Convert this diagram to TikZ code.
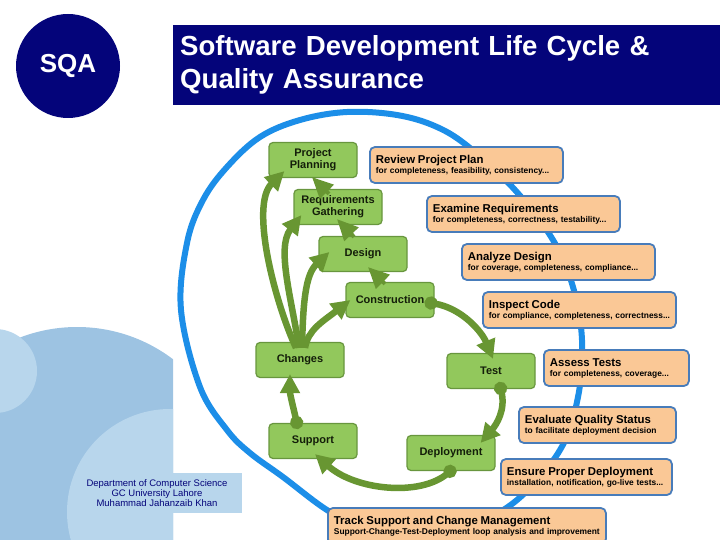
\documentclass[tikz,border=0pt]{standalone}
\usepackage{fontspec}
\setmainfont{Liberation Sans}
\usetikzlibrary{positioning,arrows.meta,calc}

\definecolor{navy}{RGB}{4,4,122}
\definecolor{phasefill}{RGB}{146,200,92}
\definecolor{phaseline}{RGB}{104,150,62}
\definecolor{flowgreen}{RGB}{104,150,50}
\definecolor{qafill}{RGB}{250,200,150}
\definecolor{qaline}{RGB}{72,124,186}
\definecolor{ringblue}{RGB}{28,142,232}
\definecolor{bgdark}{RGB}{157,195,226}
\definecolor{bglight}{RGB}{184,214,236}

\newcommand{\qatitle}[1]{\mbox{\fontsize{11.4}{10}\selectfont #1}}
\newcommand{\qanote}[1]{\mbox{#1}}

\begin{document}
\begin{tikzpicture}[x=1pt, y=-1pt,
    phase/.style={draw=phaseline, fill=phasefill, line width=1.2pt, rounded corners=4pt,
                  minimum width=88pt, minimum height=35pt, align=center, inner sep=1pt,
                  text={rgb,255:red,20;green,30;blue,10},
                  font=\fontsize{11}{12}\selectfont\bfseries},
    qabox/.style={draw=qaline, fill=qafill, line width=1.8pt, rounded corners=5pt,
                  anchor=west, align=left, inner xsep=6pt, inner ysep=0pt,
                  minimum height=36pt, font=\fontsize{8.4}{10}\selectfont\bfseries},
    ring/.style={ringblue, line width=6pt},
    flow/.style={flowgreen, line width=6.5pt, -{Triangle[length=19pt,width=19pt]}},
    dotflow/.style={flow, {Circle[length=13pt]}-{Triangle[length=19pt,width=19pt]}},
    fb/.style={flowgreen, line width=4pt, -{Triangle[length=21pt,width=19pt]}},
  ]
  \useasboundingbox (0,0) rectangle (720,540);
  \clip (0,0) rectangle (720,540);

  % --- background shapes, lower left ---
  \begin{scope}
    \clip (0,300) rectangle (173,540);
    \fill[bgdark] (77,486) circle[radius=159pt];
    \fill[bglight] (-5,371) circle[radius=42pt];
    \fill[bglight] (170,512) circle[radius=103pt];
  \end{scope}
  \node[fill=bglight, minimum width=160pt, minimum height=40pt, inner sep=0pt] (deptbox) at (162,493) {};
  \node[align=center, text=navy, font=\fontsize{9.5}{10}\selectfont, inner sep=0pt]
    (dept) at ($(deptbox.center)+(-5,0)$)
    {Department of Computer Science\\GC University Lahore\\Muhammad Jahanzaib Khan};

  % --- header ---
  \node[circle, fill=navy, minimum size=104pt, text=white,
        font=\fontsize{26}{28}\selectfont\bfseries] (sqa) at (68,66) {SQA};
  \node[fill=navy, anchor=north west, minimum width=547pt, minimum height=80pt,
        text width=533pt, inner xsep=7pt, align=left, text=white,
        font=\fontsize{27.6}{33}\selectfont\bfseries] (title) at (173,25)
    {Software Development Life Cycle \&\\Quality Assurance};

  % --- the QA ring ---
  \draw[ring] plot[smooth cycle, tension=0.6] coordinates {
    (347,112) (397,115) (437,127) (470,148) (515,190) (553,240) (573,287)
    (582,340) (578,397) (560,450) (517,500) (470,525) (410,535) (360,525)
    (327,510) (283,477) (250,453) (227,430) (200,387) (181,310) (187,243)
    (203,200) (227,167) (260,137) (300,120)};

  % --- life cycle phases ---
  \node[phase] (pp) at (313,160) {Project\\Planning};
  \node[phase] (rg) at (338,207) {Requirements\\Gathering};
  \node[phase] (de) at (363,254) {Design};
  \node[phase] (co) at (390,300) {Construction};
  \node[phase] (te) at (491,371) {Test};
  \node[phase] (dp) at (451,453) {Deployment};
  \node[phase] (su) at (313,441) {Support};
  \node[phase] (ch) at (300,360) {Changes};

  % --- quality assurance activities ---
  \node[qabox, text width=181pt] (rpp) at (369,165)
    {\qatitle{Review Project Plan}\\\qanote{for completeness, feasibility, consistency...}};
  \node[qabox, text width=181pt] (exr) at (426,214)
    {\qatitle{Examine Requirements}\\\qanote{for completeness, correctness, testability...}};
  \node[qabox, text width=181pt] (and) at (461,262)
    {\qatitle{Analyze Design}\\\qanote{for coverage, completeness, compliance...}};
  \node[qabox, text width=181pt] (inc) at (482,310)
    {\qatitle{Inspect Code}\\\qanote{for compliance, completeness, correctness...}};
  \node[qabox, text width=133pt] (ast) at (543,368)
    {\qatitle{Assess Tests}\\\qanote{for completeness, coverage...}};
  \node[qabox, text width=145pt] (eqs) at (518,425)
    {\qatitle{Evaluate Quality Status}\\\qanote{to facilitate deployment decision}};
  \node[qabox, text width=159pt] (epd) at (500,477)
    {\qatitle{Ensure Proper Deployment}\\\qanote{installation, notification, go-live tests...}};
  \node[qabox, text width=266pt] (tsc) at (327,526)
    {\qatitle{Track Support and Change Management}\\\qanote{Support-Change-Test-Deployment loop analysis and improvement}};

  % --- waterfall feedback ---
  \draw[fb] ($(rg.north)+(-9,5)$) -- ($(pp.south)+(-1,-1)$);
  \draw[fb] ($(de.north)+(-9,1)$) -- ($(rg.south)+(-1,-6)$);
  \draw[fb] ($(co.north)+(-5,2)$) -- ($(de.south)+(5,-5)$);

  % --- changes go back to earlier phases ---
  \draw[flow] ($(ch.north)+(-4,6)$) .. controls (274,300) and (250,205) .. ($(pp.south west)+(16,-7)$);
  \draw[flow] ($(ch.north)+(-1,6)$) .. controls (292,300) and (276,248) .. ($(rg.south west)+(8,-10)$);
  \draw[flow] ($(ch.north)+(2,6)$) .. controls (303,305) and (305,275) .. ($(de.west)+(11,-2)$);
  \draw[flow] ($(ch.north)+(5,6)$) .. controls (308,330) and (322,322) .. ($(co.west)+(5,0)$);

  % --- main cycle ---
  \draw[dotflow] ($(co.east)+(-10,2)$) .. controls (462,308) and (482,332) .. ($(te.north)+(2,6)$);
  \draw[dotflow] ($(te.south)+(8,-7)$) .. controls (506,410) and (496,425) .. ($(dp.north east)+(-15,8)$);
  \draw[dotflow] ($(dp.south)+(4,-4)$) .. controls (420,497) and (355,490) .. ($(su.south)+(2,-5)$);
  \draw[dotflow] ($(su.north)+(-15,6)$) .. controls (294,410) and (290,395) .. ($(ch.south)+(-10,-4)$);
\end{tikzpicture}
\end{document}
